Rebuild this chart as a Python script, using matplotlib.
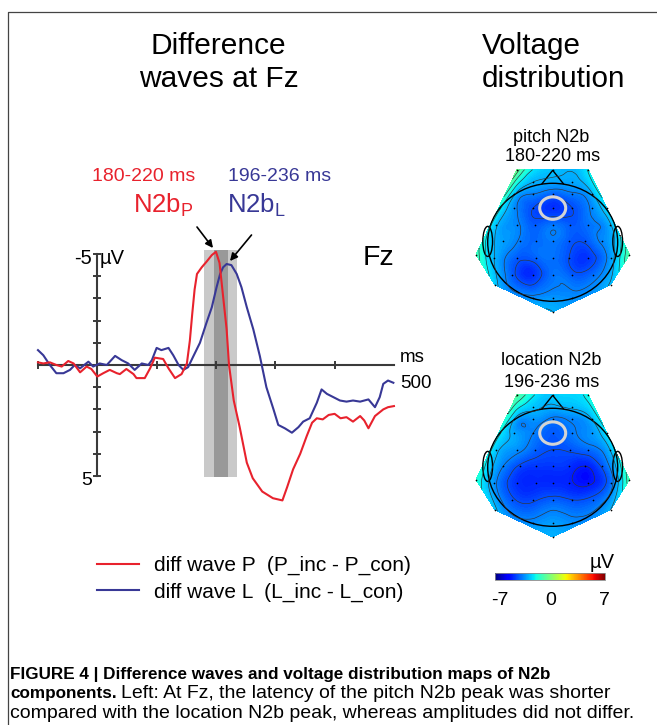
import matplotlib
matplotlib.use("Agg")
import matplotlib.pyplot as plt
import matplotlib.tri as mtri
import numpy as np
from matplotlib.cm import ScalarMappable
from matplotlib.colors import Normalize
from matplotlib.lines import Line2D
from matplotlib.patches import Ellipse, Polygon

plt.rcParams["font.family"] = ["Liberation Sans", "DejaVu Sans"]
plt.rcParams["mathtext.fontset"] = "custom"
plt.rcParams["mathtext.rm"] = "Liberation Sans"

# difference waves at Fz (ms, uV; negative plotted up)
p_ms = [-100, -91, -80, -69, -60, -49, -40, -29, -18, -10, 0, 10, 21, 33, 38, 49, 61, 66, 80, 89,
        97, 111, 120, 131, 142, 151, 156, 160, 164, 168, 176, 184, 193, 200, 206, 212, 218, 222, 230, 240,
        252, 262, 278, 296, 312, 320, 330, 342, 353, 362, 370, 380, 390, 400, 410, 420, 431, 443, 450, 457,
        468, 482, 490, 500]
p_uv = [-0.12, -0.07, -0.12, 0.0, 0.07, -0.18, -0.07, 0.33, 0.07, 0.18, 0.52, 0.37, 0.22, 0.37, 0.41, 0.18, 0.41, 0.59, 0.59, 0.15,
        -0.33, -0.27, 0.15, 0.59, 0.41, -0.07, -1.1, -2.3, -3.4, -4.1, -4.4, -4.65, -4.95, -5.1, -4.6, -3.1, -1.6, 0.0, 1.6, 2.8,
        4.4, 5.1, 5.7, 6.0, 6.1, 5.5, 4.7, 4.0, 3.2, 2.6, 2.4, 2.45, 2.25, 2.2, 2.4, 2.35, 2.55, 2.3, 2.5, 2.85,
        2.3, 2.0, 1.9, 1.85]
l_ms = [-100, -91, -80, -69, -57, -46, -38, -29, -15, -7, 4, 16, 30, 41, 52, 63, 75, 86, 92, 100,
        108, 120, 128, 137, 145, 153, 162, 173, 184, 193, 201, 207, 212, 218, 226, 235, 243, 252, 263, 274,
        285, 297, 305, 316, 328, 339, 347, 358, 370, 378, 387, 398, 409, 420, 431, 443, 457, 468, 476, 482,
        490, 499]
l_uv = [-0.67, -0.44, 0.0, 0.37, 0.37, 0.22, 0.0, 0.15, -0.15, 0.07, -0.07, 0.0, -0.41, -0.22, -0.07, 0.22, -0.07, 0.0, -0.22, -0.77,
        -0.67, -0.77, -0.44, 0.0, 0.22, 0.1, -0.4, -1.0, -1.9, -2.6, -3.5, -4.1, -4.4, -4.55, -4.5, -4.1, -3.5, -2.6, -1.6, -0.4,
        1.0, 2.0, 2.7, 2.85, 3.05, 2.8, 2.55, 2.4, 1.7, 1.1, 1.3, 1.45, 1.6, 1.65, 1.6, 1.65, 1.55, 1.9, 1.45, 0.85,
        0.7, 0.8]
win_p = (180, 220)
win_l = (196, 236)

# electrode layout (head radius = 1) and N2b voltages per electrode row
elec_rows = [
    (1.23, [-0.55, 0.0, 0.55]),
    (1.02, [-0.3, 0.3]),
    (0.82, [-0.6, -0.3, 0.0, 0.3, 0.6]),
    (0.58, [-0.83, -0.6, -0.3, 0.0, 0.3, 0.6, 0.83]),
    (0.30, [-0.88, -0.55, -0.27, 0.0, 0.27, 0.55, 0.88]),
    (0.02, [-0.76, -0.5, -0.25, 0.0, 0.25, 0.5, 0.76]),
    (-0.21, [-1.18, 1.18]),
    (-0.27, [-0.9, -0.55, -0.25, 0.0, 0.25, 0.55, 0.9]),
    (-0.55, [-0.62, -0.3, 0.0, 0.3, 0.62]),
    (-0.72, [-0.89, 0.89]),
    (-0.95, [-0.3, 0.0, 0.3]),
    (-1.18, [0.0]),
]
pitch_rows = [
    [-0.3, -2.6, -2.0],
    [-2.8, -3.0],
    [-2.6, -3.5, -3.9, -3.6, -2.9],
    [-1.8, -3.3, -4.2, -4.6, -4.2, -3.4, -2.3],
    [-2.6, -3.4, -4.0, -3.7, -4.0, -3.7, -2.9],
    [-3.1, -3.6, -3.8, -3.6, -4.0, -4.1, -3.4],
    [-1.0, -0.7],
    [-2.8, -4.0, -3.9, -3.7, -4.2, -4.5, -3.1],
    [-4.0, -4.6, -3.7, -4.0, -3.8],
    [-2.5, -2.7],
    [-3.3, -3.2, -3.3],
    [-2.8],
]
location_rows = [
    [-0.6, -2.5, -1.8],
    [-2.6, -2.7],
    [-2.7, -3.2, -3.6, -3.4, -2.8],
    [-1.9, -3.0, -3.5, -4.0, -3.6, -3.2, -2.2],
    [-2.5, -3.3, -3.9, -4.2, -4.1, -3.8, -2.8],
    [-3.5, -4.3, -4.5, -4.5, -4.6, -4.9, -4.1],
    [-1.5, -0.9],
    [-3.3, -4.6, -4.7, -4.7, -4.8, -5.0, -3.7],
    [-4.1, -4.3, -4.0, -4.2, -4.0],
    [-2.6, -2.8],
    [-3.3, -3.1, -3.3],
    [-2.8],
]
fz_pos = (0.0, 0.58)
cbar_range = (-7, 7)

RED = "#e8222d"
BLUE = "#383896"
AXIS = "#3a3a3a"
W, H = 657, 725

fig = plt.figure(figsize=(W / 100, H / 100), dpi=100)

# full-figure axes in pixel units for text and decoration
bg = fig.add_axes([0, 0, 1, 1])
bg.set_xlim(0, W)
bg.set_ylim(H, 0)
bg.axis("off")
bg.add_line(Line2D([8, 8, W], [H, 12, 12], color="#444444", lw=0.9))


def fx(px):
    return px / W


def fy(py):
    return 1 - py / H


# ---- difference waves ----
T0, PX_MS = 97.3, 0.5933
V0, PX_UV = 365.0, 22.2


def ms_at(px):
    return (px - T0) / PX_MS


def uv_at(py):
    return (py - V0) / PX_UV


ax = fig.add_axes([fx(20), fy(515), 420 / W, 277 / H])
ax.set_xlim(ms_at(20), ms_at(440))
ax.set_ylim(uv_at(515), uv_at(238))
ax.patch.set_visible(False)

light = (min(win_p[0], win_l[0]), max(win_p[1], win_l[1]))
dark = (max(win_p[0], win_l[0]), min(win_p[1], win_l[1]))
ax.fill_betweenx([-5.2, 5.05], *light, color="#c9c9c9", lw=0, zorder=0.5)
ax.fill_betweenx([-5.2, 5.05], *dark, color="#999999", lw=0, zorder=0.6)

ax.plot(l_ms, l_uv, color=BLUE, lw=1.5, zorder=3)
ax.plot(p_ms, p_uv, color=RED, lw=1.5, zorder=3)

for s in ["top", "right"]:
    ax.spines[s].set_visible(False)
ax.spines["left"].set_position(("data", 0))
ax.spines["left"].set_bounds(-5, 5)
ax.spines["bottom"].set_position(("data", 0))
ax.spines["bottom"].set_bounds(-100, 500)
for s in ["left", "bottom"]:
    ax.spines[s].set_color(AXIS)
    ax.spines[s].set_linewidth(1.5)
ax.set_yticks(range(-5, 6))
ax.set_xticks(range(-100, 500, 100))
ax.tick_params(direction="inout", length=6, width=1.4, color=AXIS,
               labelleft=False, labelbottom=False)

# arrows pointing at the two N2b peaks, drawn above the shaded windows
arrow = dict(arrowstyle="-|>", color="black", lw=1.2, mutation_scale=11, shrinkA=0, shrinkB=0)
ax.annotate("", xy=(ms_at(213), uv_at(248)), xytext=(ms_at(197), uv_at(227)),
            arrowprops=arrow, annotation_clip=False, zorder=6)
ax.annotate("", xy=(ms_at(230), uv_at(261)), xytext=(ms_at(251.5), uv_at(235)),
            arrowprops=arrow, annotation_clip=False, zorder=6)

bg.text(92, 263.5, "-5", ha="right", va="baseline", fontsize=14.5)
bg.text(100, 263.5, "µV", ha="left", va="baseline", fontsize=14.5)
bg.text(92, 485, "5", ha="right", va="baseline", fontsize=14)
bg.text(400, 362, "ms", ha="left", va="baseline", fontsize=13.5)
bg.text(400, 387.5, "500", ha="left", va="baseline", fontsize=13.5)
bg.text(363, 265, "Fz", ha="left", va="baseline", fontsize=20.5)

bg.text(218.5, 53.5, "Difference", ha="center", va="baseline", fontsize=21.5)
bg.text(218.5, 86.5, "waves at Fz", ha="center", va="baseline", fontsize=21.5)
bg.text(482, 54, "Voltage", ha="left", va="baseline", fontsize=21.3)
bg.text(482, 87, "distribution", ha="left", va="baseline", fontsize=21.3)

bg.text(144, 180.5, f"{win_p[0]}-{win_p[1]} ms", ha="center", va="baseline", fontsize=14, color=RED)
bg.text(280, 180.5, f"{win_l[0]}-{win_l[1]} ms", ha="center", va="baseline", fontsize=14, color=BLUE)
bg.text(133, 212, r"N2b$_\mathrm{P}$", ha="left", va="baseline", fontsize=18.5, color=RED)
bg.text(227, 212, r"N2b$_\mathrm{L}$", ha="left", va="baseline", fontsize=18.5, color=BLUE)

handles = [Line2D([], [], color=RED, lw=1.5), Line2D([], [], color=BLUE, lw=1.5)]
fig.legend(handles, ["diff wave P  (P_inc - P_con)", "diff wave L  (L_inc - L_con)"],
           loc="upper left", bbox_to_anchor=(fx(97), fy(556)), frameon=False,
           fontsize=15, handlelength=2.0, handletextpad=0.75, borderpad=0,
           borderaxespad=0, labelspacing=0.35)

# ---- topographic maps ----
elec_x = [x for y, xs in elec_rows for x in xs]
elec_y = [y for y, xs in elec_rows for x in xs]
CX, RX, RY = 552.7, 65.0, 59.0
norm = Normalize(*cbar_range)


def topomap(cy, rows):
    vals = np.array([v for row in rows for v in row])
    tax = fig.add_axes([fx(CX - 1.3 * RX), fy(cy + 1.3 * RY), 2.6 * RX / W, 2.6 * RY / H])
    tax.set_xlim(-1.3, 1.3)
    tax.set_ylim(-1.3, 1.3)
    tax.axis("off")
    tri = mtri.Triangulation(elec_x, elec_y)
    interp = mtri.CubicTriInterpolator(tri, vals)
    tri_f, z_f = mtri.UniformTriRefiner(tri).refine_field(vals, triinterpolator=interp, subdiv=4)
    tax.tricontourf(tri_f, z_f, levels=np.linspace(-7, 7, 141), cmap="jet", norm=norm, extend="both")
    tax.tricontour(tri_f, z_f, levels=np.arange(-6.3, 0, 0.7), colors="#333333",
                   linewidths=0.45, linestyles="solid")
    tax.add_patch(Ellipse((0, 0), 2, 2, fill=False, ec="black", lw=1.0))
    tax.add_patch(Polygon([(-0.17, 0.985), (0, 1.22), (0.17, 0.985)], closed=False, fill=False, ec="black", lw=1.0))
    for side in (-1, 1):
        tax.add_patch(Ellipse((side * 1.0, 0.015), 0.15, 0.51, fill=False, ec="black", lw=1.0))
    tax.scatter(elec_x, elec_y, s=1.5, c="black", lw=0, zorder=4)
    tax.add_patch(Ellipse(fz_pos, 0.4, 0.38, fill=False, ec="#d4d4d4", lw=2.2, zorder=5))


topomap(242.3, pitch_rows)
topomap(467.3, location_rows)

bg.text(551, 141.5, "pitch N2b", ha="center", va="baseline", fontsize=13)
bg.text(553, 161, f"{win_p[0]}-{win_p[1]} ms", ha="center", va="baseline", fontsize=13)
bg.text(551.5, 364.5, "location N2b", ha="center", va="baseline", fontsize=13)
bg.text(551.5, 386.5, f"{win_l[0]}-{win_l[1]} ms", ha="center", va="baseline", fontsize=13)

cax = fig.add_axes([fx(495), fy(580), 110 / W, 7 / H])
cb = fig.colorbar(ScalarMappable(norm=norm, cmap="jet"), cax=cax, orientation="horizontal")
cb.set_ticks([])
cb.outline.set_edgecolor("#888888")
cb.outline.set_linewidth(0.6)
bg.text(500, 605, f"{cbar_range[0]}", ha="center", va="baseline", fontsize=14)
bg.text(551, 605, "0", ha="center", va="baseline", fontsize=14)
bg.text(604, 605, f"{cbar_range[1]}", ha="center", va="baseline", fontsize=14)
bg.text(590, 568, "µV", ha="left", va="baseline", fontsize=14.5)

# ---- caption ----
bg.text(10, 678.5, "FIGURE 4 | Difference waves and voltage distribution maps of N2b",
        ha="left", va="baseline", fontsize=12.3, fontweight="bold")
b2 = bg.text(10, 698, "components.", ha="left", va="baseline", fontsize=12.3, fontweight="bold")
x_end = b2.get_window_extent(fig.canvas.get_renderer()).x1
bg.text(x_end + 4, 698, "Left: At Fz, the latency of the pitch N2b peak was shorter",
        ha="left", va="baseline", fontsize=14.0)
bg.text(10, 717.5, "compared with the location N2b peak, whereas amplitudes did not differ.",
        ha="left", va="baseline", fontsize=14.0)

fig.savefig("out.png", dpi=100)
